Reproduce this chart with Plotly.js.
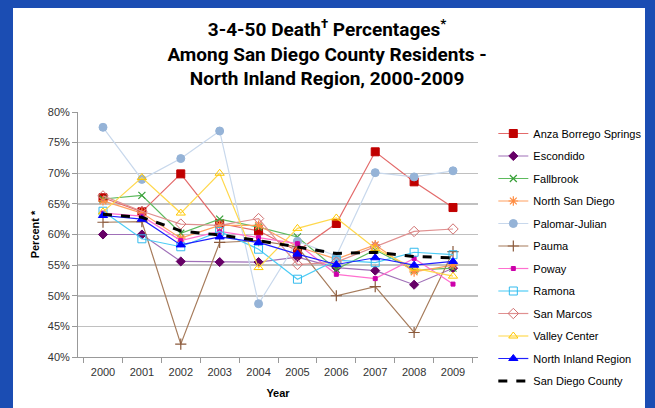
<!DOCTYPE html>
<html>
<head>
<meta charset="utf-8">
<script src="https://cdn.plot.ly/plotly-3.0.1.min.js"></script>
<style>
  html, body { margin: 0; padding: 0; }
  body { width: 655px; height: 408px; background: #1B4DB3; position: relative; overflow: hidden; }
  #chart { position: absolute; left: 13px; top: 8px; width: 632px; height: 400px; background: #ffffff; }
</style>
</head>
<body>
<div id="chart"></div>
<script>
const years = ['2000','2001','2002','2003','2004','2005','2006','2007','2008','2009'];

const anzaBorregoSprings = [66.0, 63.7, 69.9, 61.8, 60.6, 57.3, 61.8, 73.5, 68.6, 64.4];
const escondido          = [60.0, 60.0, 55.6, 55.5, 55.5, 56.3, 54.6, 54.1, 51.8, 54.5];
const fallbrook          = [65.8, 66.4, 60.2, 62.5, 61.2, 59.6, 54.3, 57.5, 54.2, 54.5];
const northSanDiego      = [65.5, 63.5, 59.4, 61.5, 61.5, 58.0, 56.0, 58.3, 53.9, 55.0];
const palomarJulian      = [77.5, 69.0, 72.4, 76.9, 48.7, 58.9, 56.5, 70.1, 69.4, 70.4];
const pauma              = [62.0, 62.1, 42.1, 58.7, 59.0, 58.0, 50.0, 51.5, 44.0, 57.2];
const poway              = [63.5, 63.0, 59.0, 60.5, 59.5, 58.5, 53.5, 52.8, 56.1, 51.9];
const ramona             = [63.8, 59.3, 58.0, 60.5, 57.6, 52.7, 55.8, 55.4, 57.1, 56.7];
const sanMarcos          = [66.3, 63.8, 61.7, 61.5, 62.6, 55.1, 55.5, 58.0, 60.5, 60.9];
const valleyCenter       = [63.7, 69.3, 63.5, 70.0, 54.6, 61.0, 62.7, 57.7, 54.5, 53.2];
const northInlandRegion  = [63.1, 62.5, 58.3, 59.6, 58.7, 56.8, 55.1, 56.2, 55.0, 55.6];
const sanDiegoCounty     = [63.3, 62.8, 60.6, 59.9, 59.0, 58.0, 56.9, 57.1, 56.4, 56.2];

const yTicks = [40, 45, 50, 55, 60, 65, 70, 75, 80];

function series(name, y, lineColor, symbol, markerColor, size, opts) {
  opts = opts || {};
  return {
    type: 'scatter', mode: opts.mode || 'lines+markers', name: name,
    x: years, y: y, legendgroup: name,
    line: { color: lineColor, width: opts.width || 1.2, dash: opts.dash || 'solid' },
    marker: { symbol: symbol, size: size, color: markerColor,
              line: { color: markerColor, width: opts.mlw || 1 } },
    hoverinfo: 'x+y+name'
  };
}

const data = [
  series('Anza Borrego Springs', anzaBorregoSprings, '#E36A6A', 'square', '#C00000', 8),
  series('Escondido', escondido, '#A070B8', 'diamond', '#660066', 7),
  series('Fallbrook', fallbrook, '#5DBA5D', 'x-thin-open', '#3AA03A', 7, {mlw: 1.2}),
  series('North San Diego', northSanDiego, '#FFA060', 'asterisk-open', '#FF8C40', 8, {mlw: 1.2}),
  series('Palomar-Julian', palomarJulian, '#C8D8EC', 'circle', '#95B3D7', 8),
  series('Pauma', pauma, '#A67B5B', 'cross-thin-open', '#8B5A3C', 8, {mlw: 1.2}),
  series('Poway', poway, '#FF6FCF', 'square', '#CC00AA', 4),
  series('Ramona', ramona, '#4DCCF5', 'square-open', '#33BBEE', 8),
  series('San Marcos', sanMarcos, '#E09090', 'diamond-open', '#D07070', 8),
  series('Valley Center', valleyCenter, '#FFD84D', 'triangle-up-open', '#FFC800', 8),
  series('North Inland Region', northInlandRegion, '#2020FF', 'triangle-up', '#0000FF', 8),
  series('San Diego County', sanDiegoCounty, '#000000', 'circle', '#000000', 1, {mode: 'lines', width: 3, dash: 'dash'})
];

const layout = {
  width: 632, height: 400,
  paper_bgcolor: '#ffffff', plot_bgcolor: '#ffffff',
  margin: { l: 65, r: 167, t: 104, b: 51 },
  font: { family: 'Liberation Sans, Arial, sans-serif', size: 11, color: '#333333' },
  title: {
    text: '3-4-50 Death<sup>†</sup> Percentages<sup>*</sup><br>Among San Diego County Residents -<br>North Inland Region, 2000-2009',
    font: { family: 'Roboto, Liberation Sans, sans-serif', size: 19, color: '#000000', weight: 'bold' },
    x: 0.497, xref: 'container', xanchor: 'center',
    y: 0.93, yref: 'container', yanchor: 'top'
  },
  xaxis: {
    type: 'category', tickson: 'boundaries', ticks: 'outside', ticklen: 5, tickcolor: '#999999',
    showline: true, linecolor: '#999999', linewidth: 1, showgrid: false, zeroline: false,
    tickfont: { size: 11, color: '#333333' }, ticklabelstandoff: 5,
    title: { text: '<b>Year</b>', font: { size: 11, color: '#000000' }, standoff: 12 }
  },
  yaxis: {
    range: [40, 80], tickvals: yTicks, ticktext: yTicks.map(v => v + '%'),
    ticks: 'outside', ticklen: 5, tickcolor: '#999999',
    showline: true, linecolor: '#999999', linewidth: 1,
    showgrid: true, gridcolor: '#C0C0C0', gridwidth: 1.5, zeroline: false,
    tickfont: { size: 11, color: '#333333' },
    title: { text: '<b>Percent *</b>', font: { size: 11, color: '#000000' }, standoff: 5 }
  },
  legend: {
    xref: 'container', yref: 'container',
    x: 0.76, xanchor: 'left', y: 0.7225, yanchor: 'top',
    font: { size: 11, color: '#000000' },
    tracegroupgap: 3.5, itemwidth: 30, maxheight: 390,
    bgcolor: 'rgba(0,0,0,0)'
  },
  showlegend: true
};

Plotly.newPlot('chart', data, layout, { displayModeBar: false, staticPlot: true });
</script>
</body>
</html>
